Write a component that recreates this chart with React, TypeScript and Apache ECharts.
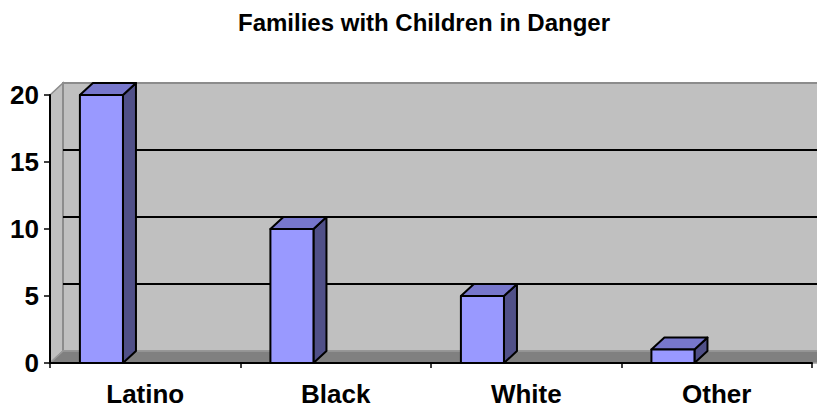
import React, { useEffect, useRef } from "react";
import * as echarts from "echarts";

const categories = ["Latino", "Black", "White", "Other"];
const values = [20, 10, 5, 1];
const yTicks = [0, 5, 10, 15, 20];
const titleText = "Families with Children in Danger";

const DX = 13;
const DY = -12;
const FONT = "'Liberation Sans', Arial, Helvetica, sans-serif";

export default function App() {
  const ref = useRef<HTMLDivElement>(null);
  useEffect(() => {
    if (!ref.current) return;
    const chart = echarts.init(ref.current, null, { renderer: "svg" });

    const wallsRender = (params: any, api: any) => {
      const cs = params.coordSys;
      const x0 = cs.x;
      const x1 = cs.x + cs.width;
      const yTop = api.coord([0, yTicks[yTicks.length - 1]])[1];
      const yBot = api.coord([0, 0])[1];
      const children: any[] = [];
      children.push({
        type: "polygon",
        shape: { points: [[x0, yTop], [x0 + DX, yTop + DY], [x0 + DX, yBot + DY], [x0, yBot]] },
        style: { fill: "#C0C0C0", stroke: "#8C8C8C", lineWidth: 1.5 },
      });
      children.push({
        type: "rect",
        shape: { x: x0 + DX, y: yTop + DY, width: x1 - x0 + 20, height: yBot - yTop },
        style: { fill: "#C0C0C0", stroke: "#8C8C8C", lineWidth: 2 },
      });
      yTicks.forEach((t) => {
        if (t === 0 || t === yTicks[yTicks.length - 1]) return;
        const y = api.coord([0, t])[1] + DY;
        children.push({
          type: "line",
          shape: { x1: x0 + DX, y1: y, x2: x1 + DX + 20, y2: y },
          style: { stroke: "#000", lineWidth: 2 },
        });
      });
      children.push({
        type: "polygon",
        shape: { points: [[x0, yBot], [x0 + DX, yBot + DY], [x1 + DX + 20, yBot + DY], [x1 + 20, yBot]] },
        style: { fill: "#808080", stroke: "#9A9A9A", lineWidth: 1.5 },
      });
      return { type: "group", children };
    };

    const barsRender = (params: any, api: any) => {
      const idx = api.value(0);
      const val = api.value(1);
      const band = api.size([1, 0])[0];
      const top = api.coord([idx, val]);
      const bottom = api.coord([idx, 0]);
      const left = top[0] - band / 2 + band * 0.157;
      const w = band * 0.226;
      const yT = top[1];
      const yB = bottom[1];
      const stroke = { stroke: "#000", lineWidth: 2, lineJoin: "round" };
      return {
        type: "group",
        children: [
          {
            type: "polygon",
            shape: { points: [[left + w, yT], [left + w + DX, yT + DY], [left + w + DX, yB + DY], [left + w, yB]] },
            style: { fill: "#505088", ...stroke },
          },
          {
            type: "polygon",
            shape: { points: [[left, yT], [left + DX, yT + DY], [left + w + DX, yT + DY], [left + w, yT]] },
            style: { fill: "#7777CC", ...stroke },
          },
          {
            type: "rect",
            shape: { x: left, y: yT, width: w, height: yB - yT },
            style: { fill: "#9999FF", ...stroke },
          },
        ],
      };
    };

    chart.setOption({
      animation: false,
      backgroundColor: "#fff",
      title: {
        text: titleText,
        left: 233,
        top: 5,
        textStyle: { fontFamily: FONT, fontWeight: "bold", fontSize: 24, color: "#000" },
      },
      grid: { left: 50, right: 5, top: 95, bottom: 47 },
      xAxis: {
        type: "category",
        data: categories,
        boundaryGap: true,
        axisLine: { show: true, lineStyle: { color: "#000", width: 2 } },
        axisTick: { show: true, length: 5, lineStyle: { color: "#000", width: 1.5 } },
        axisLabel: { fontFamily: FONT, fontWeight: "bold", fontSize: 26, color: "#000", margin: 18 },
        splitLine: { show: false },
        z: 1,
      },
      yAxis: {
        type: "value",
        min: 0,
        max: 20,
        interval: 5,
        axisLine: { show: true, lineStyle: { color: "#000", width: 2 } },
        axisTick: { show: true, length: 6, lineStyle: { color: "#000", width: 1.5 } },
        axisLabel: { fontFamily: FONT, fontWeight: "bold", fontSize: 26, color: "#000", margin: 11 },
        splitLine: { show: false },
        z: 1,
      },
      series: [
        {
          type: "custom",
          name: "walls",
          data: [[0, 0]],
          renderItem: wallsRender,
          clip: false,
          silent: true,
          z: 0,
        },
        {
          type: "custom",
          name: "Families",
          data: values.map((v, i) => [i, v]),
          renderItem: barsRender,
          clip: false,
          z: 5,
        },
      ],
    });
    return () => chart.dispose();
  }, []);

  return <div ref={ref} style={{ width: 817, height: 410, position: "absolute", left: 0, top: 0 }} />;
}
